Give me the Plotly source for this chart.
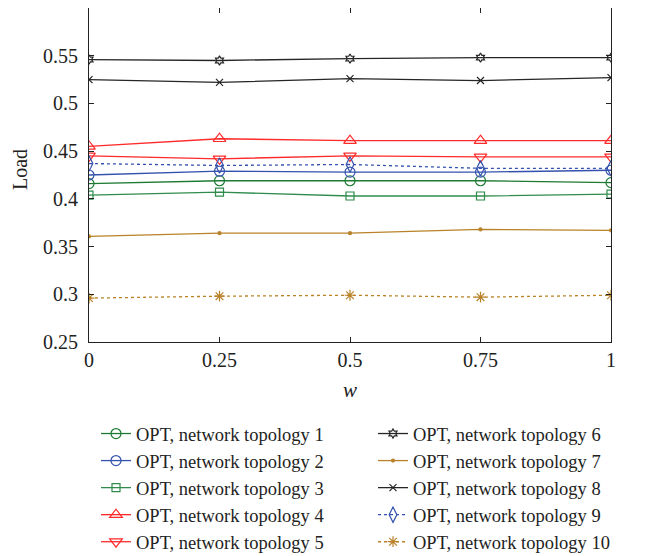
import plotly.graph_objects as go

w = [0, 0.25, 0.5, 0.75, 1]

names = [f"OPT, network topology {i}" for i in range(1, 11)]

load_1 = [0.416, 0.419, 0.419, 0.419, 0.417]
load_2 = [0.425, 0.429, 0.428, 0.428, 0.430]
load_3 = [0.404, 0.407, 0.403, 0.403, 0.405]
load_4 = [0.455, 0.463, 0.461, 0.461, 0.461]
load_5 = [0.445, 0.442, 0.445, 0.444, 0.444]
load_6 = [0.546, 0.545, 0.547, 0.548, 0.548]
load_7 = [0.3606, 0.364, 0.364, 0.368, 0.367]
load_8 = [0.525, 0.522, 0.526, 0.524, 0.527]
load_9 = [0.437, 0.435, 0.436, 0.432, 0.432]
load_10 = [0.296, 0.298, 0.299, 0.297, 0.299]

y_ticks = [0.25, 0.3, 0.35, 0.4, 0.45, 0.5, 0.55]
x_ticks = [0, 0.25, 0.5, 0.75, 1]
x_tick_text = ["0", "0.25", "0.5", "0.75", "1"]
y_tick_text = ["0.25", "0.3", "0.35", "0.4", "0.45", "0.5", "0.55"]

GREEN1 = "#1d7a33"
GREEN3 = "#2f8c4c"
BLUE = "#3452ad"
RED = "#ff2a2a"
BLACK = "#262626"
BROWN = "#b98229"

styles = [
    dict(y=load_1, color=GREEN1, symbol="circle-open", size=10, dash="solid", legend="legend"),
    dict(y=load_2, color=BLUE, symbol="circle-open", size=10, dash="solid", legend="legend"),
    dict(y=load_3, color=GREEN3, symbol="square-open", size=8, dash="solid", legend="legend"),
    dict(y=load_4, color=RED, symbol="triangle-up-open", size=11, dash="solid", legend="legend"),
    dict(y=load_5, color=RED, symbol="triangle-down-open", size=11, dash="solid", legend="legend"),
    dict(y=load_6, color=BLACK, symbol="hexagram-open", size=7, dash="solid", legend="legend2"),
    dict(y=load_7, color=BROWN, symbol="circle", size=3, dash="solid", legend="legend2"),
    dict(y=load_8, color=BLACK, symbol="x-thin-open", size=7, dash="solid", legend="legend2"),
    dict(y=load_9, color=BLUE, symbol="diamond-tall-open", size=11, dash="dot", legend="legend2"),
    dict(y=load_10, color=BROWN, symbol="asterisk-open", size=9, dash="dot", legend="legend2"),
]

fig = go.Figure()
for name, s in zip(names, styles):
    fig.add_trace(go.Scatter(
        x=w, y=s["y"], name=name, mode="lines+markers",
        line=dict(color=s["color"], width=1.3, dash=s["dash"]),
        marker=dict(symbol=s["symbol"], size=s["size"], color=s["color"],
                    line=dict(color=s["color"], width=1.2)),
        legend=s["legend"],
    ))

FONT = "Liberation Serif, Times New Roman, serif"

legend_common = dict(
    orientation="v", yanchor="top", xanchor="left",
    xref="container", yref="container",
    font=dict(family=FONT, size=18.5, color="#222"),
    bgcolor="rgba(0,0,0,0)", tracegroupgap=0, itemwidth=30,
)

fig.update_layout(
    width=651, height=556,
    margin=dict(l=81, r=48, t=0, b=222, autoexpand=False),
    paper_bgcolor="white", plot_bgcolor="white",
    font=dict(family=FONT, size=20, color="#222"),
    showlegend=True,
    legend=dict(x=88 / 651, y=1 - 407 / 556, **legend_common),
    legend2=dict(x=365 / 651, y=1 - 407 / 556, **legend_common),
    xaxis=dict(
        range=[0, 1], tickvals=x_ticks, ticktext=x_tick_text,
        ticks="inside", ticklen=5, tickcolor="#222", mirror="ticks",
        showline=True, linecolor="#222", linewidth=1.2, showgrid=False, zeroline=False,
        title=dict(text="<i>w</i>", font=dict(family=FONT, size=21), standoff=12),
        tickfont=dict(family=FONT, size=20),
    ),
    yaxis=dict(
        range=[0.25, 0.6], tickvals=y_ticks, ticktext=y_tick_text,
        ticks="inside", ticklen=5, tickcolor="#222", mirror="ticks",
        showline=True, linecolor="#222", linewidth=1.2, showgrid=False, zeroline=False,
        tickfont=dict(family=FONT, size=20), ticklabelstandoff=6,
    ),
    annotations=[dict(
        text="Load", textangle=-90, xref="paper", yref="paper",
        x=-0.132, y=0.515, xanchor="center", yanchor="middle", showarrow=False,
        font=dict(family=FONT, size=20, color="#222"),
    )],
)

fig.write_html("out.html")
